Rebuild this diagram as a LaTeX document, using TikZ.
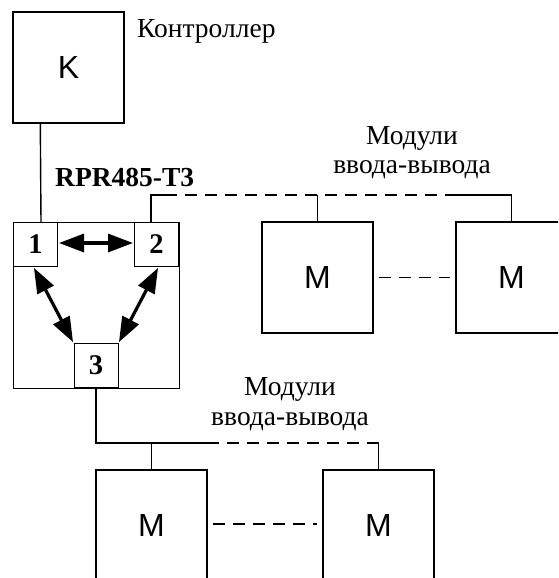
\documentclass[tikz,border=0pt]{standalone}
\usepackage{fontspec}
\setmainfont{Liberation Serif}
\newfontfamily\arialf{Liberation Sans}
\usetikzlibrary{arrows.meta}
\begin{document}
\begin{tikzpicture}[x=1pt,y=-1pt,
  box/.style={draw,line width=1.4pt,inner sep=0pt,minimum width=111pt,minimum height=111pt,font=\arialf\fontsize{32}{32}\selectfont},
  port/.style={draw,line width=1pt,inner sep=0pt,minimum width=44pt,minimum height=44pt,font=\bfseries\fontsize{28.5}{28.5}\selectfont},
  lbl/.style={inner sep=0pt,font=\fontsize{27.5}{27.5}\selectfont},
  wire/.style={line width=1.4pt},
  dwire/.style={line width=1.4pt,dash pattern=on 12pt off 8pt},
  biarrow/.style={line width=3.2pt,{Triangle[length=25pt,width=18pt]}-{Triangle[length=25pt,width=18pt]},shorten <=1pt,shorten >=1pt}]
\useasboundingbox (0,0) rectangle (558,578);
\clip (0,0) rectangle (558,578);
% controller
\node[box] (K) at (68.5,67.5) {K};
\node[lbl,anchor=base west] (ctrl) at (137,37.5) {Контроллер};
% RPR485-T3
\node[draw,line width=1pt,inner sep=0pt,minimum width=166pt,minimum height=166pt] (rpr) at (96,305) {};
\node[lbl,font=\bfseries\fontsize{27.5}{27.5}\selectfont,anchor=base west] (rprl) at (55,186) {RPR485-T3};
\node[port,anchor=north west] (p1) at (13,222) {1};
\node[port,anchor=north east] (p2) at (179,222) {2};
\node[port,anchor=south] (p3) at (96,388) {3};
\draw[biarrow] ([yshift=1.5pt]p1.east) -- ([yshift=1.5pt]p2.west);
\draw[biarrow] ([xshift=-2pt]p1.south) -- (p3.north west);
\draw[biarrow] ([xshift=2pt]p2.south) -- (p3.north east);
% upper modules
\node[box] (m1) at (317.5,277.5) {M};
\node[box] (m2) at (511.5,277.5) {M};
\node[lbl,anchor=base] (u1) at (412,144) {Модули};
\node[lbl,anchor=base] (u2) at (412,173) {ввода-вывода};
\coordinate (ua) at (165,195);
\coordinate (ub) at (453,195);
\draw[wire] ([xshift=28pt]K.south west) -- ([xshift=28pt]p1.north west);
\draw[wire] ([xshift=17pt]p2.north west) |- (ua);
\draw[dwire] (ua) -- (ub);
\draw[wire] (ub) -| (m2.north);
\draw[wire] (m1.north) -- (m1.north |- ua);
\draw[dwire] ([xshift=5pt]m1.east) -- ([xshift=-5pt]m2.west);
% lower modules
\node[box] (m3) at (151.5,525.5) {M};
\node[box] (m4) at (378.5,525.5) {M};
\node[lbl,anchor=base] (l1) at (290,395) {Модули};
\node[lbl,anchor=base] (l2) at (290,425) {ввода-вывода};
\coordinate (la) at (207,443);
\coordinate (lb) at (372,443);
\draw[wire] (p3.south) |- (la);
\draw[dwire] (la) -- (lb);
\draw[wire] (lb) -| (m4.north);
\draw[wire] (m3.north) -- (m3.north |- la);
\draw[dwire] ([xshift=5pt,yshift=1.5pt]m3.east) -- ([xshift=-5pt,yshift=1.5pt]m4.west);
\end{tikzpicture}
\end{document}
